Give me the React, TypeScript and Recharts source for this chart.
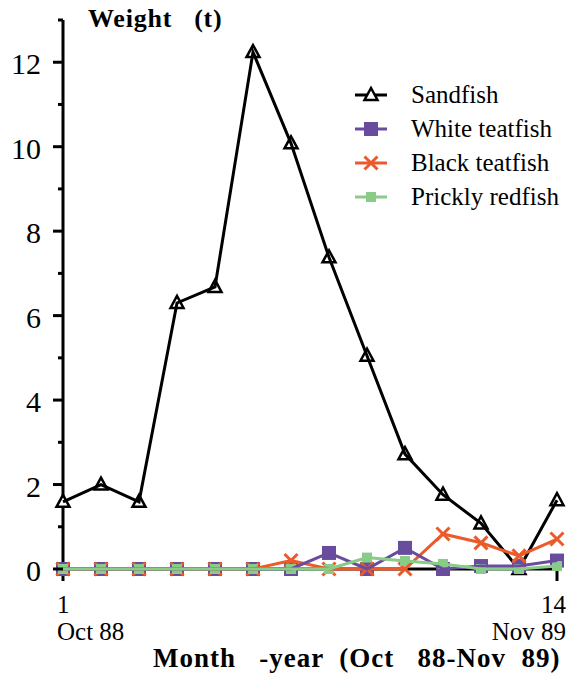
import React from "react";
import { LineChart, Line, XAxis, YAxis } from "recharts";

const months = [1, 2, 3, 4, 5, 6, 7, 8, 9, 10, 11, 12, 13, 14];
const sandfish = [1.59, 2.0, 1.59, 6.3, 6.68, 12.24, 10.08, 7.38, 5.05, 2.72, 1.76, 1.08, 0, 1.63];
const whiteTeatfish = [0, 0, 0, 0, 0, 0, 0, 0.38, 0, 0.5, 0, 0.07, 0.07, 0.2];
const blackTeatfish = [0, 0, 0, 0, 0, 0, 0.2, 0, 0, 0, 0.83, 0.62, 0.31, 0.71];
const pricklyRedfish = [0, 0, 0, 0, 0, 0, 0, 0, 0.27, 0.19, 0.12, 0, 0, 0.07];

const yTicks = [0, 1, 2, 3, 4, 5, 6, 7, 8, 9, 10, 11, 12, 13];
const xTicks = [1, 14];
const xTickLabels: Record<number, string[]> = { 1: ["1", "Oct 88"], 14: ["14", "Nov 89"] };

const FONT = '"Liberation Serif", "Times New Roman", serif';
const PURPLE = "#6a4c9f";
const ORANGE = "#ea5a2a";
const GREEN = "#88cc88";

const chartData = months.map((m, i) => ({
  month: m,
  sandfish: sandfish[i],
  white: whiteTeatfish[i],
  black: blackTeatfish[i],
  prickly: pricklyRedfish[i],
}));

type Marker = "triangle" | "square" | "cross" | "smallSquare";

function drawMarker(kind: Marker, cx: number, cy: number, color: string, key?: string) {
  if (kind === "triangle") {
    return (
      <polygon
        key={key}
        points={`${cx},${cy - 7} ${cx - 6.5},${cy + 5} ${cx + 6.5},${cy + 5}`}
        fill="#fff"
        stroke={color}
        strokeWidth={2.5}
      />
    );
  }
  if (kind === "square") {
    return <rect key={key} x={cx - 7} y={cy - 7} width={14} height={14} fill={color} />;
  }
  if (kind === "smallSquare") {
    return <rect key={key} x={cx - 5} y={cy - 5} width={10} height={10} fill={color} />;
  }
  return (
    <g key={key} stroke={color} strokeWidth={3}>
      <line x1={cx - 6.5} y1={cy - 6.5} x2={cx + 6.5} y2={cy + 6.5} />
      <line x1={cx - 6.5} y1={cy + 6.5} x2={cx + 6.5} y2={cy - 6.5} />
    </g>
  );
}

const makeDot = (kind: Marker, color: string) => (props: any) => {
  const { cx, cy, index } = props;
  if (cx == null || cy == null) return <g key={`d-${index}`} />;
  return drawMarker(kind, cx, cy, color, `${kind}-${index}`);
};

const series = [
  { key: "sandfish", name: "Sandfish", color: "#000", marker: "triangle" as Marker },
  { key: "white", name: "White teatfish", color: PURPLE, marker: "square" as Marker },
  { key: "black", name: "Black teatfish", color: ORANGE, marker: "cross" as Marker },
  { key: "prickly", name: "Prickly redfish", color: GREEN, marker: "smallSquare" as Marker },
];

// drawing order, bottom to top: black axis, orange, purple, green (as in the source figure)
const layer: Record<string, number> = { sandfish: 600, black: 601, white: 602, prickly: 603 };

const YTick = (props: any) => {
  const { x, y, payload } = props;
  const major = payload.value % 2 === 0;
  return (
    <g>
      <line x1={x - (major ? 10 : 5)} y1={y} x2={x} y2={y} stroke="#000" strokeWidth={3} />
      {major && (
        <text x={x - 22} y={y + 12} textAnchor="end" fontSize={30} fontFamily={FONT} fill="#000">
          {payload.value}
        </text>
      )}
    </g>
  );
};

const XTick = (props: any) => {
  const { x, y, payload } = props;
  const lines = xTickLabels[payload.value] || [];
  const left = payload.value === 1;
  const tx = left ? x - 6 : x + 9;
  return (
    <text x={tx} y={y} textAnchor={left ? "start" : "end"} fontSize={25} fontFamily={FONT} fill="#000">
      <tspan x={tx} dy={32}>{lines[0]}</tspan>
      <tspan x={tx} dy={27}>{lines[1]}</tspan>
    </text>
  );
};

const LegendBox = () => (
  <div
    style={{
      position: "absolute",
      left: 353,
      top: 78,
      fontFamily: FONT,
      fontSize: 25,
      color: "#000",
    }}
  >
    {series.map((s) => (
      <div key={s.key} style={{ display: "flex", alignItems: "center", height: 34 }}>
        <svg width={36} height={20} style={{ flex: "none" }}>
          <line x1={2} y1={10} x2={34} y2={10} stroke={s.color} strokeWidth={3} />
          {drawMarker(s.marker, 18, 10, s.color)}
        </svg>
        <span style={{ marginLeft: 22, whiteSpace: "nowrap" }}>{s.name}</span>
      </div>
    ))}
  </div>
);

export default function App() {
  return (
    <div style={{ position: "absolute", left: 0, top: 0, width: 567, height: 677, background: "#fff" }}>
      <LineChart
        width={567}
        height={677}
        data={chartData}
        margin={{ top: 20, right: 10, left: 0, bottom: 0 }}
      >
        <XAxis
          dataKey="month"
          type="number"
          domain={[1, 14]}
          ticks={xTicks}
          height={108}
          axisLine={{ stroke: "#000", strokeWidth: 3 }}
          tickLine={{ stroke: "#000", strokeWidth: 3 }}
          tickSize={12}
          tickMargin={0}
          tick={<XTick />}
          interval={0}
        />
        <YAxis
          type="number"
          domain={[0, 13]}
          ticks={yTicks}
          width={63}
          axisLine={{ stroke: "#000", strokeWidth: 3 }}
          tickLine={false}
          tickSize={0}
          tickMargin={0}
          tick={<YTick />}
          interval={0}
        />
        {series.map((s) => (
          <Line
            key={s.key}
            dataKey={s.key}
            name={s.name}
            stroke={s.color}
            strokeWidth={3}
            type="linear"
            dot={makeDot(s.marker, s.color)}
            activeDot={false}
            isAnimationActive={false}
            zIndex={layer[s.key]}
          />
        ))}
      </LineChart>
      <LegendBox />
      <div
        style={{
          position: "absolute",
          left: 88,
          top: 4,
          fontFamily: FONT,
          fontWeight: "bold",
          fontSize: 26,
          letterSpacing: 0.8,
          whiteSpace: "pre",
        }}
      >
        {"Weight   (t)"}
      </div>
      <div
        style={{
          position: "absolute",
          left: 153,
          top: 643,
          fontFamily: FONT,
          fontWeight: "bold",
          fontSize: 27,
          letterSpacing: 1,
          whiteSpace: "pre",
        }}
      >
        {"Month   -year  (Oct   88-Nov  89)"}
      </div>
    </div>
  );
}
